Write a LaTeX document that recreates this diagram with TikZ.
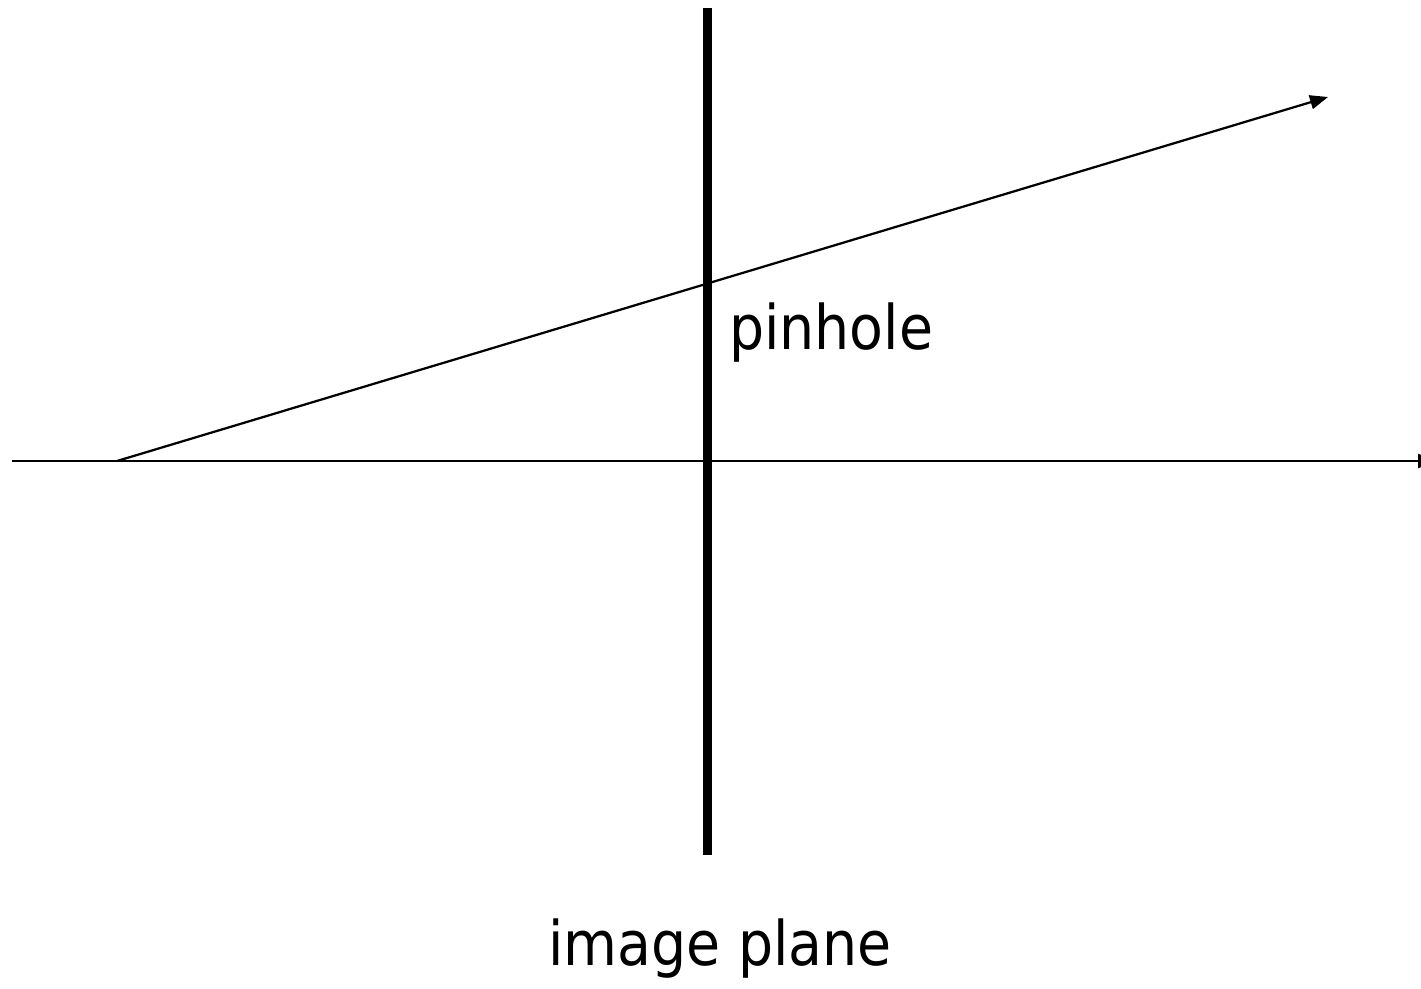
\documentclass[tikz,border=0pt]{standalone}
\usepackage{fontspec}
\setmainfont{DejaVu Sans Condensed}
\usetikzlibrary{positioning,arrows.meta}

\begin{document}
\begin{tikzpicture}[x=0.02cm,y=-0.02cm,every node/.style={font=\fontsize{35}{42}\selectfont,inner sep=0pt}]
    \tikzstyle{ray}=[line width=0.045cm,-{Triangle[length=0.36cm,width=0.28cm]}];
    \tikzstyle{plane}=[line width=0.18cm];
    \useasboundingbox (0,0) rectangle (1421,989);
    % --- image plane and axis ---
    \coordinate (ptop) at (707.5,8);
    \coordinate (pbot) at (707.5,855);
    \coordinate (axl)  at (12,461);
    \coordinate (axr)  at (1436,461);
    \coordinate (src)  at (117,461);
    \coordinate (tip)  at (1328,97);
    \draw[plane] (ptop)--(pbot);
    \draw[ray] (axl)--(axr);
    \draw[ray] (src)--(tip);
    % --- labels ---
    \node[anchor=base west] (pin) at (729,350) {pinhole};
    \node[anchor=base] (img) at (720,965) {image plane};
\end{tikzpicture}
\end{document}
